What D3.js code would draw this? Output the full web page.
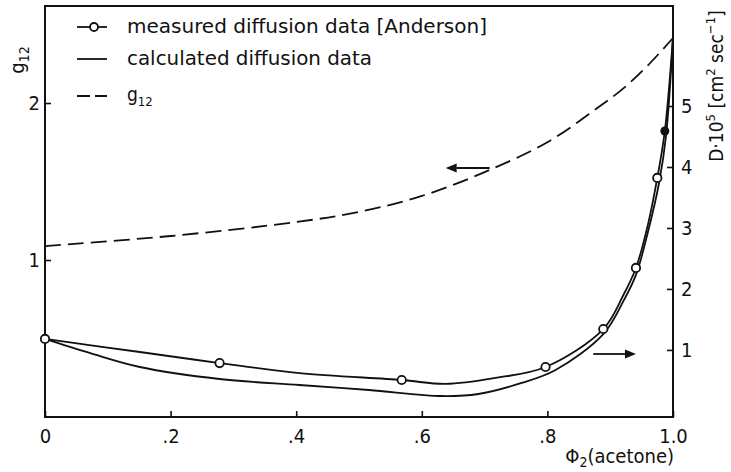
<!DOCTYPE html>
<html><head><meta charset="utf-8">
<script src="https://cdn.jsdelivr.net/npm/d3@7"></script>
<style>
html,body{margin:0;padding:0;background:#fff;}
svg text{font-family:"Liberation Sans Narrow","DejaVu Sans Condensed","Roboto Condensed","DejaVu Sans",sans-serif;fill:#111;}
</style></head>
<body>
<svg id="c" width="731" height="472"></svg>
<script>
// ---- data ----
const xTicks = [0, 0.2, 0.4, 0.6, 0.8, 1.0];
const xTickLabels = ["0", ".2", ".4", ".6", ".8", "1.0"];
const leftTicks = [1, 2];
const rightTicks = [1, 2, 3, 4, 5];

// measured diffusion data [Anderson] (open circles) — D·10^5
const measPhi = [0, 0.278, 0.568, 0.797, 0.889, 0.941, 0.975];
const measD   = [1.18, 0.785, 0.507, 0.72, 1.343, 2.344, 3.82];
const measFilledPhi = [0.987];
const measFilledD   = [4.59];

// line through measured data
const measLinePhi = [0, 0.151, 0.278, 0.405, 0.568, 0.638, 0.717, 0.797, 0.889, 0.921, 0.941, 0.960, 0.975, 0.987, 1.0];
const measLineD   = [1.18, 0.966, 0.785, 0.621, 0.507, 0.442, 0.54, 0.72, 1.343, 1.90, 2.344, 3.05, 3.82, 4.59, 6.13];

// calculated diffusion data
const calcPhi = [0, 0.071, 0.151, 0.278, 0.405, 0.516, 0.632, 0.690, 0.759, 0.813, 0.889, 0.921, 0.941, 0.960, 0.978, 0.989, 1.0];
const calcD   = [1.18, 0.95, 0.72, 0.523, 0.425, 0.343, 0.244, 0.277, 0.458, 0.671, 1.26, 1.80, 2.23, 2.93, 3.75, 4.52, 6.13];

// g12
const gPhi = [0, 0.2, 0.4, 0.5, 0.6, 0.7, 0.8, 0.88, 0.92, 0.96, 1.0];
const gVal = [1.089, 1.153, 1.242, 1.306, 1.408, 1.56, 1.75, 1.97, 2.09, 2.24, 2.414];

// arrows (annotation): [phiStart, phiEnd, value]
const arrowLeft  = [0.708, 0.638, 1.586];  // points to left axis (g12)
const arrowRight = [0.873, 0.941, 0.933];  // points to right axis (D)

const legendLabels = ["measured diffusion data [Anderson]", "calculated diffusion data"];

// ---- layout ----
const svg = d3.select("#c");
const L = 45, R = 673, T = 6, B = 417;
const x  = d3.scaleLinear().domain([0, 1]).range([L, R]);
const yL = d3.scaleLinear().domain([0, 2.618]).range([B, T]);
const yR = d3.scaleLinear().domain([-0.1, 6.64]).range([B, T]);

const ink = "#111";

// frame
svg.append("rect").attr("x", L).attr("y", T).attr("width", R - L).attr("height", B - T)
  .attr("fill", "none").attr("stroke", ink).attr("stroke-width", 2);

// axes
const fs = 20;
const gx = svg.append("g").attr("transform", `translate(0,${B})`)
  .call(d3.axisBottom(x).tickValues(xTicks).tickSize(-6).tickPadding(12)
    .tickFormat((d, i) => xTickLabels[i]));
const gl = svg.append("g").attr("transform", `translate(${L},0)`)
  .call(d3.axisLeft(yL).tickValues(leftTicks).tickSize(-6).tickPadding(5).tickFormat(d3.format("d")));
const gr = svg.append("g").attr("transform", `translate(${R},0)`)
  .call(d3.axisRight(yR).tickValues(rightTicks).tickSize(-6).tickPadding(8).tickFormat(d3.format("d")));
[gx, gl, gr].forEach(g => {
  g.select(".domain").remove();
  g.selectAll(".tick line").attr("stroke", ink).attr("stroke-width", 1.6);
  g.selectAll(".tick text").attr("font-size", fs).attr("fill", ink);
});

// curves
const lineR = d3.line().x(d => x(d[0])).y(d => yR(d[1])).curve(d3.curveCatmullRom.alpha(0.5));
const lineL = d3.line().x(d => x(d[0])).y(d => yL(d[1])).curve(d3.curveCatmullRom.alpha(0.5));

svg.append("path").datum(calcPhi.map((p, i) => [p, calcD[i]]))
  .attr("d", lineR).attr("fill", "none").attr("stroke", ink).attr("stroke-width", 1.8);
svg.append("path").datum(measLinePhi.map((p, i) => [p, measLineD[i]]))
  .attr("d", lineR).attr("fill", "none").attr("stroke", ink).attr("stroke-width", 1.8);
svg.append("path").datum(gPhi.map((p, i) => [p, gVal[i]]))
  .attr("d", lineL).attr("fill", "none").attr("stroke", ink).attr("stroke-width", 1.8)
  .attr("stroke-dasharray", "16,7");

// markers
svg.selectAll("circle.meas").data(measPhi.map((p, i) => [p, measD[i]])).enter()
  .append("circle").attr("class", "meas")
  .attr("cx", d => x(d[0])).attr("cy", d => yR(d[1])).attr("r", 4.2)
  .attr("fill", "#fff").attr("stroke", ink).attr("stroke-width", 1.8);
svg.selectAll("circle.filled").data(measFilledPhi.map((p, i) => [p, measFilledD[i]])).enter()
  .append("circle").attr("class", "filled")
  .attr("cx", d => x(d[0])).attr("cy", d => yR(d[1])).attr("r", 4.5).attr("fill", ink);

// arrows
function arrow(a, ys) {
  const x0 = x(a[0]), x1 = x(a[1]), yy = ys(a[2]);
  const dir = Math.sign(x1 - x0);
  const hl = 11, hw = 4.5;
  svg.append("line").attr("x1", x0).attr("x2", x1 - dir * hl).attr("y1", yy).attr("y2", yy)
    .attr("stroke", ink).attr("stroke-width", 1.8);
  svg.append("path").attr("d", `M${x1},${yy}L${x1 - dir * hl},${yy - hw}L${x1 - dir * hl},${yy + hw}Z`)
    .attr("fill", ink);
}
arrow(arrowLeft, yL);
arrow(arrowRight, yR);

// legend
const lgX0 = 77, lgX1 = 107, lgTx = 127;
const rows = [27, 59, 96];
svg.append("line").attr("x1", lgX0).attr("x2", lgX1).attr("y1", rows[0]).attr("y2", rows[0])
  .attr("stroke", ink).attr("stroke-width", 1.8);
svg.append("circle").attr("cx", 94).attr("cy", rows[0]).attr("r", 4).attr("fill", "#fff")
  .attr("stroke", ink).attr("stroke-width", 1.8);
svg.append("line").attr("x1", lgX0).attr("x2", lgX1).attr("y1", rows[1]).attr("y2", rows[1])
  .attr("stroke", ink).attr("stroke-width", 1.8);
svg.append("line").attr("x1", lgX0).attr("x2", lgX1).attr("y1", rows[2]).attr("y2", rows[2])
  .attr("stroke", ink).attr("stroke-width", 1.8).attr("stroke-dasharray", "13,5");
const lgW = [360, 245];
legendLabels.forEach((t, i) => {
  svg.append("text").attr("x", lgTx).attr("y", rows[i] + 6).attr("font-size", 19)
    .attr("textLength", lgW[i]).attr("lengthAdjust", "spacingAndGlyphs").text(t);
});
const g12t = svg.append("text").attr("x", lgTx).attr("y", rows[2] + 5).attr("font-size", 19);
g12t.append("tspan").text("g");
g12t.append("tspan").attr("font-size", 13).attr("dy", 5).text("12");

// axis titles
const lt = svg.append("text").attr("transform", "translate(24,60) rotate(-90)")
  .attr("text-anchor", "middle").attr("font-size", 20);
lt.append("tspan").text("g");
lt.append("tspan").attr("font-size", 14).attr("dy", 5).text("12");

const xt = svg.append("text").attr("x", 674).attr("y", 463).attr("text-anchor", "end").attr("font-size", 20);
xt.append("tspan").text("Φ");
xt.append("tspan").attr("font-size", 14).attr("dy", 4).text("2");
xt.append("tspan").attr("dy", -4).text("(acetone)");

const rt = svg.append("text").attr("transform", "translate(723,86) rotate(-90)")
  .attr("text-anchor", "middle").attr("font-size", 19);
rt.append("tspan").text("D·10");
rt.append("tspan").attr("font-size", 13).attr("dy", -8).text("5");
rt.append("tspan").attr("dy", 8).text("  [cm");
rt.append("tspan").attr("font-size", 13).attr("dy", -8).text("2");
rt.append("tspan").attr("dy", 8).text(" sec");
rt.append("tspan").attr("font-size", 13).attr("dy", -8).text("−1");
rt.append("tspan").attr("dy", 8).text("]");
</script>
</body></html>
